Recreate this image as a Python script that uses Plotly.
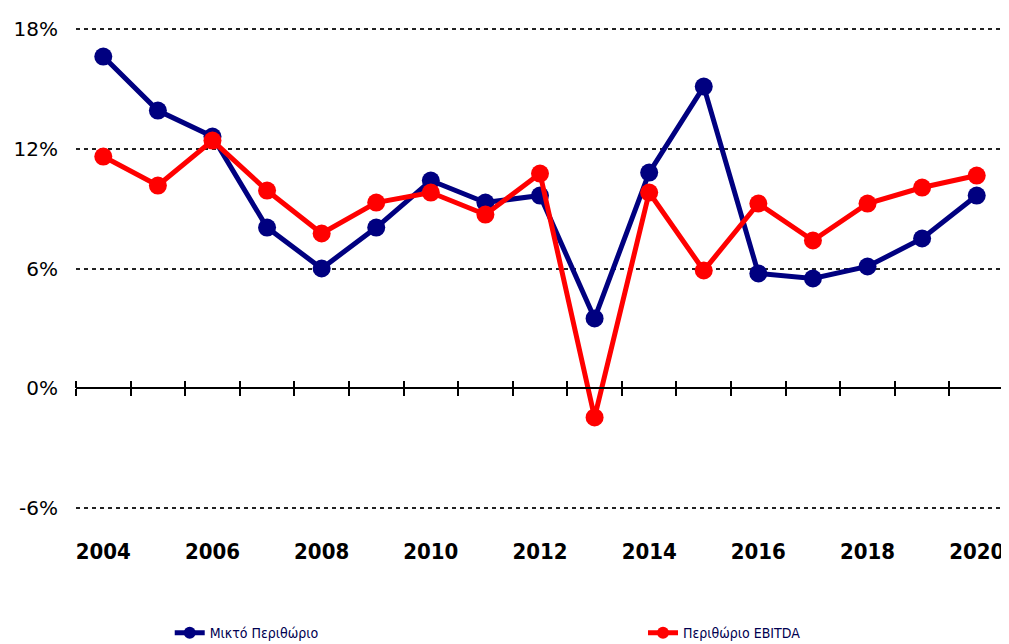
import plotly.graph_objects as go

years = list(range(2004, 2021))
gross_margin = [16.6, 13.9, 12.6, 8.05, 6.0, 8.05, 10.4, 9.3, 9.65, 3.5, 10.8, 15.1, 5.75, 5.5, 6.1, 7.5, 9.65]
ebitda_margin = [11.6, 10.15, 12.4, 9.9, 7.75, 9.3, 9.8, 8.7, 10.75, -1.45, 9.8, 5.9, 9.25, 7.4, 9.25, 10.05, 10.65]
series_names = ["Μικτό Περιθώριο", "Περιθώριο EBITDA"]
series_colors = ["#000080", "#FF0000"]
x_tick_years = [2004, 2006, 2008, 2010, 2012, 2014, 2016, 2018, 2020]
y_ticks = [-6, 0, 6, 12, 18]
y_range = [-6.08, 18.08]
x_range = [years[0] - 0.5, years[-1] + 0.5]
boundaries = [years[0] - 0.5 + i for i in range(len(years) + 1)]

cond = "DejaVu Sans Condensed, DejaVu Sans, sans-serif"

fig = go.Figure()
for i, (name, vals, col) in enumerate(zip(series_names, [gross_margin, ebitda_margin], series_colors)):
    fig.add_trace(go.Scatter(
        x=years, y=vals, name=name, mode="lines+markers",
        line=dict(color=col, width=5),
        marker=dict(color=col, size=18, symbol="circle"),
        legend="legend" if i == 0 else "legend2",
    ))

# helper empty traces to show the zero axis with boundary ticks
fig.add_trace(go.Scatter(x=[None], y=[None], xaxis="x2", showlegend=False, hoverinfo="skip"))
fig.add_trace(go.Scatter(x=[None], y=[None], xaxis="x3", showlegend=False, hoverinfo="skip"))

zero_pos = (0 - y_range[0]) / (y_range[1] - y_range[0])

legend_common = dict(
    orientation="h", xanchor="left", y=-0.255, yanchor="middle",
    font=dict(family=cond, size=14, color="#000050"),
    itemsizing="constant", bgcolor="rgba(0,0,0,0)",
)

fig.update_layout(
    width=1001, height=636,
    margin=dict(l=68, r=5, t=19, b=134, autoexpand=False),
    paper_bgcolor="white", plot_bgcolor="white",
    xaxis=dict(
        range=x_range, tickvals=x_tick_years, ticktext=[str(y) for y in x_tick_years],
        showgrid=False, zeroline=False, showline=False, ticks="", automargin=False,
        tickfont=dict(family=cond, size=22, color="black", weight="bold"),
        ticklabelstandoff=26,
    ),
    xaxis2=dict(
        overlaying="x", anchor="free", position=zero_pos, side="bottom",
        range=x_range, tickvals=boundaries, showticklabels=False, automargin=False,
        ticks="outside", ticklen=7, tickwidth=2, tickcolor="black",
        showline=True, linecolor="black", linewidth=2, showgrid=False, zeroline=False,
    ),
    xaxis3=dict(
        overlaying="x", anchor="free", position=zero_pos, side="top",
        range=x_range, tickvals=boundaries, showticklabels=False, automargin=False,
        ticks="outside", ticklen=7, tickwidth=2, tickcolor="black",
        showline=False, showgrid=False, zeroline=False,
    ),
    yaxis=dict(
        range=y_range, tickvals=y_ticks, ticktext=[f"{v}%" for v in y_ticks],
        showgrid=True, gridcolor="#222222", gridwidth=2, griddash="4px,4px",
        zeroline=False, showline=False, ticks="", automargin=False,
        tickfont=dict(family="DejaVu Sans", size=20, color="black"),
        ticklabelstandoff=17,
    ),
    legend=dict(x=0.101, **legend_common),
    legend2=dict(x=0.611, **legend_common),
    showlegend=True,
)

fig.write_html("out.html")
